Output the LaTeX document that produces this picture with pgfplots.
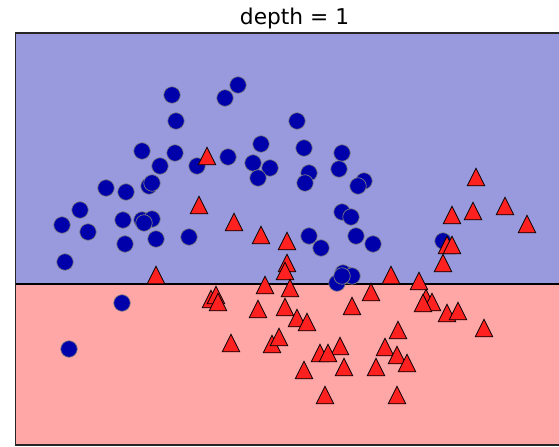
\documentclass[border=0pt]{standalone}
\usepackage{pgfplots}
\pgfplotsset{compat=1.18}
\usepackage{fontspec}
\setmainfont{DejaVu Sans}
\definecolor{bluebg}{RGB}{153,153,221}
\definecolor{redbg}{RGB}{255,166,166}
\definecolor{cblue}{HTML}{0000AA}
\definecolor{cred}{HTML}{FF2020}
\begin{document}
\begin{tikzpicture}
\useasboundingbox (0,0) rectangle (419.25pt,334.5pt);
\clip (0,0) rectangle (419.25pt,334.5pt);
\begin{axis}[
  at={(11.625pt,0.975pt)}, anchor=south west,
  scale only axis, width=418.5pt, height=308.55pt,
  xmin=15.5, xmax=573.5, ymin=33.3, ymax=444.7,
  y dir=reverse,
  xtick=\empty, ytick=\empty,
  axis on top,
  axis line style={line width=1.3pt, black!85},
]
\addplot[fill=bluebg, draw=none] coordinates {(15.5,33.3) (573.5,33.3) (573.5,284) (15.5,284)} -- cycle;
\addplot[fill=redbg, draw=none] coordinates {(15.5,284) (573.5,284) (573.5,444.7) (15.5,444.7)} -- cycle;
\addplot[black, line width=1.7pt] coordinates {(15.5,284) (573.5,284)};
% class 0: circles
\addplot[only marks, mark=*, mark size=6.2pt, mark options={fill=cblue, draw=gray, line width=0.5pt}] coordinates {
(172,95) (238,85) (225,98) (176,121) (297,121) (142,151) (175,153) (160,166)
(197,166) (228,157) (261,144) (253,163) (270,168) (258,178) (304,148) (342,153)
(309,173) (305,183) (339,169) (364,181) (358,186) (106,188) (126,192) (149,186)
(152,183) (80,210) (62,225) (88,232) (123,220) (142,220) (152,219) (144,223)
(125,244) (156,239) (189,237) (65,262) (122,303) (69,349) (342,212) (351,217)
(309,236) (321,248) (356,236) (373,244) (443,241) (347,275) (343,273) (352,276)
(337,283) (342,276)
};
% class 1: triangles
\addplot[only marks, mark=triangle*, mark size=7.6pt, mark options={yshift=-2.2pt, yscale=1.15, fill=cred, draw=black, line width=0.6pt}] coordinates {
(207,156) (199,205) (234,222) (261,235) (287,241) (156,275) (476,177) (452,215)
(473,211) (505,206) (527,224) (447,245) (452,245) (443,263) (287,263) (285,271)
(265,285) (290,288) (391,275) (419,281) (371,292) (211,299) (216,295) (218,302)
(258,309) (285,307) (297,318) (307,322) (352,306) (426,298) (432,302) (423,303)
(447,313) (458,311) (484,328) (398,330) (231,343) (272,344) (279,337) (340,346)
(320,353) (328,353) (385,347) (397,355) (407,363) (344,367) (376,367) (304,370)
(325,395) (397,395)
};
\end{axis}
\node[anchor=base, inner sep=0pt, font=\fontsize{16.3}{19}\selectfont] at (220.9pt,315.75pt) {depth = 1};
\end{tikzpicture}
\end{document}
